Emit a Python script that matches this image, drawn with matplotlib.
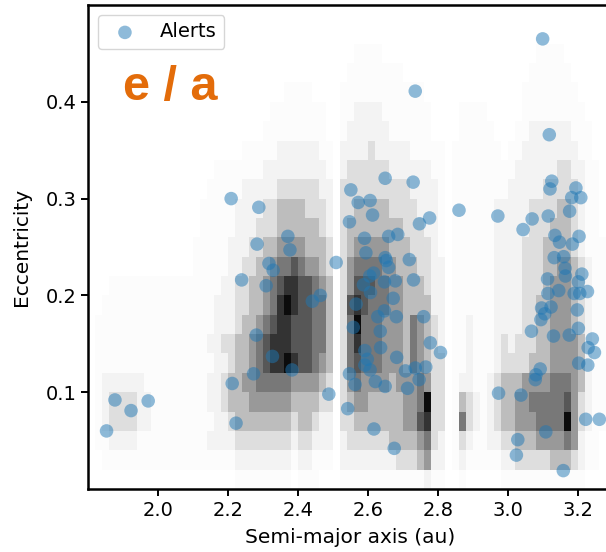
import numpy as np
import matplotlib
matplotlib.use("Agg")
import matplotlib.pyplot as plt

# Background density of known asteroids: 0.02 au x 0.02 e cells,
# shade level 0 (empty) .. 9 (densest). Rows run from e=0.44 down to e=0.00,
# columns from a=1.80 to a=3.28 (groups of ten columns separated by spaces).
a_start, a_step, n_cols = 1.80, 0.02, 75
e_step = 0.02
density_rows = [
    "0000000000 0000000000 0000000000 0000000011 1100000000 0000000000 0000111100 00000",  # 0.44
    "0000000000 0000000000 0000000000 0000000111 1111100000 0000000000 0001111110 00000",  # 0.42
    "0000000000 0000000000 0000000011 1100001111 1111111100 0000000000 0011111111 00000",  # 0.40
    "0000000000 0000000000 0000001111 1111001122 2211111110 0001111000 0011111111 10000",  # 0.38
    "0000000000 0000000000 0000011111 1111001222 2221111110 0001111100 0112222221 11000",  # 0.36
    "0000000000 0000000000 0011111222 2221102222 3222221111 1011111110 1122222222 11000",  # 0.34
    "0000000000 0000000011 1111122222 2222102333 3332222221 1011111111 1222222332 21100",  # 0.32
    "0000000000 0000000111 1122222333 3332203333 3333332222 1011111111 2222233333 21100",  # 0.30
    "0000000000 0000001111 1222233444 4333203344 4443333222 1011111122 2223333443 21100",  # 0.28
    "0000000000 0000001111 1222333444 4443203444 4444433322 1011111122 2223334443 21100",  # 0.26
    "0000000000 0000011111 2223344555 5444303455 5554443332 1011111122 2233344443 21110",  # 0.24
    "0000000000 0000011111 2233445667 6554303566 6655444332 2011111122 2233344554 32110",  # 0.22
    "0001111111 1111111112 2334456788 7765403577 7665544432 2011111122 2233345554 32110",  # 0.20
    "0011111111 1111111122 2334456898 7766403787 6665544442 2011111122 2233445554 32110",  # 0.18
    "0111111111 1111111122 2344567887 7766403696 6655546543 2011211122 2233445554 32110",  # 0.16
    "0111111111 1111111223 3445678887 7766403686 6655546543 2011211123 2333445555 42110",  # 0.14
    "0111111111 1111111122 3445678898 7765403676 6655546543 3011211123 3334445555 42110",  # 0.12
    "0122222211 1111111223 4455666665 5554303565 5554555653 3012211234 4455556665 42110",  # 0.10
    "0123333221 1111111223 4445555554 4443303455 4444455693 3014321234 4556666675 32110",  # 0.08
    "0123333221 1111111122 3444444443 4432203344 4444455783 3016321234 4555666695 32110",  # 0.06
    "0112222111 1111111222 2333333332 3322202333 3334444563 2013211223 3444555565 21100",  # 0.04
    "0011111111 1111111111 1222222221 2211102222 2222333452 2012111112 2333334443 21100",  # 0.02
    "0000000000 0000000000 0111111110 1110001111 1111111121 1001000001 1111111111 10000",  # 0.00
]
shade_of_level = [0.0, 0.015, 0.05, 0.13, 0.26, 0.40, 0.53, 0.66, 0.80, 0.95]

# Alerts: semi-major axis (au) and eccentricity
alerts_a = [
    2.209, 2.288, 2.283, 2.371, 2.377, 2.317, 2.329, 2.239, 2.309, 2.509,
    2.464, 2.441, 2.281, 2.327, 2.273, 2.383, 2.212, 2.488, 2.223,
    1.877, 1.923, 1.972, 1.853,
    2.649, 2.729, 2.551, 2.572, 2.606, 2.613, 2.547, 2.776, 2.747, 2.860,
    2.971, 2.735,
    2.590, 2.659, 2.685, 2.594, 2.649, 2.652, 2.659, 2.718, 2.616, 2.605,
    2.678, 2.730, 2.587, 2.647, 2.607, 2.672, 2.566, 2.647, 2.628, 2.681,
    2.759, 2.558, 2.635, 2.636, 2.778, 2.807, 2.591, 2.598, 2.682, 2.591,
    2.606, 2.765, 2.735, 2.707, 2.746, 2.547, 2.563, 2.621, 2.649, 2.713,
    2.542, 2.617, 2.675,
    3.099, 3.118, 3.125, 3.120, 3.194, 3.182, 3.208, 3.176, 3.115, 3.069,
    3.043, 3.134, 3.147, 3.184, 3.203, 3.132, 3.159, 3.163, 3.164, 3.211,
    3.113, 3.201, 3.145, 3.114, 3.189, 3.205, 3.227, 3.096, 3.123, 3.105,
    3.198, 3.094, 3.067, 3.130, 3.175, 3.201, 3.241, 3.229, 3.247, 3.202,
    3.228, 3.092, 3.078, 3.080, 2.973, 3.037, 3.222, 3.261, 3.108, 3.028,
    3.024, 3.158,
]
alerts_e = [
    0.300, 0.291, 0.253, 0.261, 0.247, 0.233, 0.226, 0.216, 0.210, 0.234,
    0.200, 0.194, 0.159, 0.137, 0.119, 0.123, 0.109, 0.098, 0.068,
    0.092, 0.081, 0.091, 0.060,
    0.321, 0.317, 0.309, 0.296, 0.298, 0.283, 0.276, 0.280, 0.274, 0.288,
    0.282, 0.411,
    0.259, 0.261, 0.263, 0.244, 0.239, 0.236, 0.229, 0.237, 0.223, 0.220,
    0.215, 0.216, 0.211, 0.214, 0.203, 0.197, 0.191, 0.184, 0.178, 0.178,
    0.178, 0.167, 0.163, 0.146, 0.151, 0.141, 0.143, 0.134, 0.136, 0.128,
    0.123, 0.126, 0.125, 0.122, 0.113, 0.119, 0.108, 0.111, 0.106, 0.104,
    0.083, 0.062, 0.042,
    0.465, 0.366, 0.318, 0.310, 0.311, 0.301, 0.301, 0.287, 0.282, 0.279,
    0.268, 0.262, 0.255, 0.253, 0.261, 0.239, 0.240, 0.228, 0.220, 0.222,
    0.217, 0.214, 0.205, 0.202, 0.202, 0.202, 0.204, 0.187, 0.188, 0.181,
    0.185, 0.175, 0.163, 0.158, 0.159, 0.166, 0.155, 0.146, 0.141, 0.130,
    0.128, 0.124, 0.113, 0.118, 0.099, 0.097, 0.072, 0.072, 0.059, 0.051,
    0.035, 0.019,
]

x_ticks = [2.0, 2.2, 2.4, 2.6, 2.8, 3.0, 3.2]
y_ticks = [0.1, 0.2, 0.3, 0.4]

plt.rcParams["font.family"] = ["DejaVu Sans"]

fig = plt.figure(figsize=(6.06, 5.52), dpi=100)
ax = fig.add_axes([88 / 606, 63 / 552, 525 / 606, 484 / 552])

# density grid
rows = [r.replace(" ", "") for r in density_rows][::-1]
grid = np.array([[shade_of_level[int(c)] for c in r] for r in rows])
a_edges = a_start + a_step * np.arange(n_cols + 1)
e_edges = e_step * np.arange(len(rows) + 1)
ax.pcolormesh(a_edges, e_edges, grid, cmap="gray_r", vmin=0, vmax=1,
              shading="flat", rasterized=True, zorder=1)

ax.scatter(alerts_a, alerts_e, s=95, color="tab:blue", alpha=0.5,
           edgecolors="none", label="Alerts", zorder=3)

ax.set_xlim(1.8, 3.3)
ax.set_ylim(0.0, 0.5)
ax.set_xticks(x_ticks)
ax.set_yticks(y_ticks)
ax.set_xticklabels([f"{t:.1f}" for t in x_ticks])
ax.set_yticklabels([f"{t:.1f}" for t in y_ticks])
ax.set_xlabel("Semi-major axis (au)", fontsize=14.5, labelpad=6)
ax.set_ylabel("Eccentricity", fontsize=14.5)
ax.yaxis.set_label_coords(-0.109, 0.5)
for side in ax.spines.values():
    side.set_linewidth(1.8)
ax.tick_params(width=1.4, length=5, labelsize=14)

ax.legend(loc="upper left", fontsize=14, borderaxespad=0.5)
ax.text(0.067, 0.804, "e / a", transform=ax.transAxes, fontsize=35,
        fontweight="bold", color="#e36c0a", family="Liberation Sans",
        va="baseline", ha="left")

fig.savefig("out.png", dpi=100)
